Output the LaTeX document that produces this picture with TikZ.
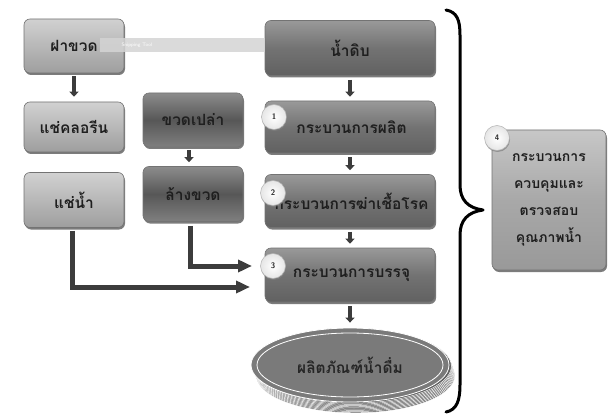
\documentclass[tikz,border=0pt]{standalone}
\usepackage{fontspec}
\newfontfamily\thaifont[Script=Thai]{Loma}
\usetikzlibrary{shadows,arrows.meta,calc,shapes.geometric}
\definecolor{arrowgray}{HTML}{3C3C3C}
\tikzset{
  box/.style={rectangle, rounded corners=6pt, draw=black!55, line width=0.6pt,
    drop shadow={shadow xshift=1pt, shadow yshift=-2pt, fill=black!60, opacity=0.85},
    font=\thaifont\bfseries\fontsize{15.5}{18}\selectfont, text=black!88, align=center},
  lightbox/.style={box, top color=black!18, bottom color=black!38, middle color=black!28},
  darkbox/.style={box, top color=black!45, bottom color=black!50, middle color=black!66},
  mainbox/.style={box, top color=black!40, bottom color=black!62, middle color=black!55},
  qcbox/.style={box, top color=black!22, bottom color=black!40, middle color=black!34},
  numdot/.style={circle, minimum size=25pt, inner sep=0pt, draw=black!30, line width=0.5pt,
    inner color=white, outer color=black!10,
    drop shadow={shadow xshift=0.5pt, shadow yshift=-1.5pt, fill=black!50, opacity=0.7},
    font=\sffamily\bfseries\fontsize{8}{8}\selectfont, text=black!85},
  downarrow/.style={draw=arrowgray, line width=4pt, -{Triangle[length=5pt,width=9pt]}},
  elbow/.style={draw=arrowgray, line width=5pt, -{Triangle[length=14pt,width=12pt]}},
  bracepath/.style={draw=black, line width=3pt, line cap=round, line join=round}
}
\begin{document}
\begin{tikzpicture}[x=1pt, y=-1pt]
\useasboundingbox (0,0) rectangle (608,417);
\fill[white] (0,0) rectangle (608,417);

% left column: caps
\node[lightbox, minimum width=100pt, minimum height=54pt] (cap) at (74,46) {ฝาขวด};
\node[lightbox, minimum width=100pt, minimum height=50pt] (chlor) at (74,127) {แช่คลอรีน};
\node[lightbox, minimum width=100pt, minimum height=55pt] (soak) at (74,200) {แช่น้ำ};

% middle column: bottles
\node[darkbox, minimum width=100pt, minimum height=54pt] (empty) at (193,120) {ขวดเปล่า};
\node[darkbox, minimum width=100pt, minimum height=55pt] (wash) at (193,194) {ล้างขวด};

% main column: water
\node[mainbox, minimum width=170pt, minimum height=55pt] (raw) at (350,48) {น้ำดิบ};
\node[mainbox, minimum width=170pt, minimum height=52pt] (prod) at (350,127) {\hspace{3pt}กระบวนการผลิต};
\node[mainbox, minimum width=170pt, minimum height=53pt] (dis) at (350,201) {\hspace{3pt}กระบวนการฆ่าเชื้อโรค};
\node[mainbox, minimum width=170pt, minimum height=54pt] (pack) at (350,275) {\hspace{3pt}กระบวนการบรรจุ};

% screen-capture toolbar strip
\fill[black!17, opacity=0.85] (100,38) rectangle (265,52);
\node[font=\sffamily\fontsize{5}{5}\selectfont, text=white, anchor=west] (snip) at (118,45) {Snipping Tool};

% stacked product disc
\coordinate (disc) at (350,365);
\foreach \k in {9,...,1}{
  \fill[black!62, draw=white, line width=0.5pt] ($(disc)+(2+0.4*\k,1.2*\k)$) ellipse (99pt and 37pt);
}
\node[ellipse, minimum width=198pt, minimum height=74pt, fill=black!52, draw=white, line width=0.8pt] (product) at (disc) {};
\draw[white, line width=0.8pt] (disc) ellipse (93pt and 32pt);
\node[font=\thaifont\bfseries\fontsize{15.5}{18}\selectfont, text=black!85] (prodtext) at (disc) {ผลิตภัณฑ์น้ำดื่ม};

% quality control
\node[qcbox, minimum width=114pt, minimum height=140pt, font=\thaifont\bfseries\fontsize{14}{27}\selectfont] (qc) at (549,200) {กระบวนการ\\ควบคุมและ\\ตรวจสอบ\\คุณภาพน้ำ};

% step numbers
\node[numdot] (n1) at (274,117) {1};
\node[numdot] (n2) at (273,193) {2};
\node[numdot] (n3) at (273,266) {3};
\node[numdot] (n4) at (497,138) {4};

% flow arrows
\draw[downarrow] (cap.south) ++(0,3) -- ($(chlor.north)+(0,-5)$);
\draw[downarrow] (empty.south) ++(-4,3) -- ($(wash.north)+(-4,-4)$);
\draw[downarrow] (raw.south) ++(0,4) -- ($(prod.north)+(0,-4)$);
\draw[downarrow] (prod.south) ++(0,4) -- ($(dis.north)+(0,-4)$);
\draw[downarrow] (dis.south) ++(0,4) -- ($(pack.north)+(0,-4)$);
\draw[downarrow] (pack.south) ++(0,4) -- ($(product.north)+(0,-5)$);

\coordinate (e1) at (72,287);
\coordinate (e2) at (190,266);
\draw[elbow] ($(soak.south)+(-2,3)$) -- (e1) -- (250,287);
\draw[elbow] ($(wash.south)+(-3,4)$) -- (e2) -- (252,266);

% brace gathering the main steps
\draw[bracepath] (446,10) .. controls (457,12) and (460,20) .. (460,35) -- (460,185)
  .. controls (460,200) and (468,208) .. (483,210)
  .. controls (468,212) and (460,220) .. (460,235) -- (460,385)
  .. controls (460,400) and (457,410) .. (446,412);
\end{tikzpicture}
\end{document}
